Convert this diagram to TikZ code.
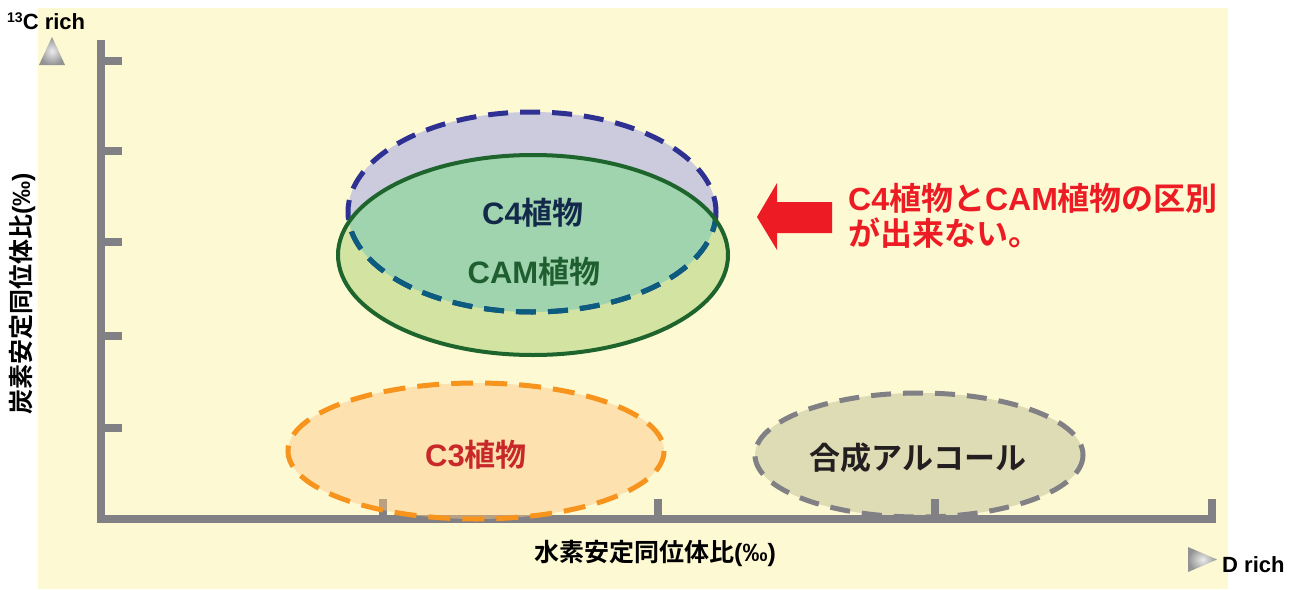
\documentclass[tikz,border=0pt]{standalone}
\usepackage{fontspec}
\setmainfont{Noto Sans CJK JP}[BoldFont={Noto Sans CJK JP Bold}]
\newfontfamily\lat{Liberation Sans}
\definecolor{bg}{RGB}{253,249,210}
\definecolor{axisgray}{RGB}{128,128,133}
\definecolor{c4fill}{RGB}{203,203,221}
\definecolor{camfill}{RGB}{210,227,162}
\definecolor{mint}{RGB}{160,212,174}
\definecolor{navy}{RGB}{46,49,146}
\definecolor{tealdash}{RGB}{11,92,126}
\definecolor{camgreen}{RGB}{30,100,45}
\definecolor{c3orange}{RGB}{247,148,29}
\definecolor{c3fill}{RGB}{253,200,134}
\definecolor{alcfill}{RGB}{222,220,181}
\definecolor{arrowred}{RGB}{237,28,36}
\definecolor{c4text}{RGB}{19,41,75}
\definecolor{camtext}{RGB}{31,95,47}
\definecolor{c3text}{RGB}{200,40,42}
\definecolor{alctext}{RGB}{35,31,32}
\begin{document}
\begin{tikzpicture}[x=1pt,y=-1pt,font=\bfseries,
  axisline/.style={axisgray,line width=8pt},
  dashline/.style={line width=5pt,dash pattern=on 20pt off 12pt},
  label/.style={inner sep=0pt,font=\bfseries\fontsize{31}{31}\selectfont},
  axlabel/.style={inner sep=0pt,font=\bfseries\fontsize{25}{25}\selectfont,text=black},
  richlabel/.style={inner sep=0pt,font=\lat\bfseries\fontsize{22}{22}\selectfont,text=black},
  marker/.style={shade,inner color=gray!15,outer color=gray!85}]
\useasboundingbox (0,0) rectangle (1300,589);
\fill[white] (0,0) rectangle (1300,589);
\fill[bg] (38,8) rectangle (1228,589);
% synthetic alcohol
\path[fill=alcfill,draw=axisgray,dashline] (919,455) ellipse [x radius=164,y radius=62];
% axes
\draw[axisline] (101,40) -- (101,519) -- (1216,519);
\foreach \yy in {61,151,242,336,428} \draw[axisline] (101,\yy) -- (122,\yy);
\foreach \xx in {383,658,935,1212} \draw[axisline] (\xx,519) -- (\xx,499);
% C3
\fill[c3fill,fill opacity=0.45] (476,451) ellipse [x radius=188,y radius=68];
\draw[c3orange,dashline,dash pattern=on 22pt off 12pt] (476,451) ellipse [x radius=188,y radius=68];
% C4 and CAM
\fill[c4fill] (532,212) ellipse [x radius=184,y radius=100];
\fill[camfill] (533,255) ellipse [x radius=195,y radius=100];
\begin{scope}
  \clip (533,255) ellipse [x radius=195,y radius=100];
  \fill[mint] (532,212) ellipse [x radius=184,y radius=100];
\end{scope}
\draw[navy,dashline] (532,212) ellipse [x radius=184,y radius=100];
\begin{scope}
  \clip (533,255) ellipse [x radius=195,y radius=100];
  \draw[tealdash,dashline] (532,212) ellipse [x radius=184,y radius=100];
\end{scope}
\draw[camgreen,line width=4pt] (533,255) ellipse [x radius=195,y radius=100];
% labels
\node[label,text=c4text] (c4) at (533,213) {{\lat C4}植物};
\node[label,text=camtext] (cam) at (534,272) {{\lat CAM}植物};
\node[label,text=c3text] (c3) at (476,455) {{\lat C3}植物};
\node[label,text=alctext] (alc) at (918,458) {合成アルコール};
% red arrow and note
\fill[arrowred] (757,217) -- (777,183) -- (777,202) -- (832,202) -- (832,233) -- (777,233) -- (777,250) -- cycle;
\node[inner sep=0pt,anchor=west,align=left,text=arrowred,font=\bfseries\fontsize{32}{35}\selectfont] (note) at (848,216) {{\lat C4}植物と{\lat CAM}植物の区別\\が出来ない。};
% axis labels
\node[axlabel] (xlab) at (655,553) {水素安定同位体比{\lat(‰)}};
\node[axlabel,rotate=90] (ylab) at (22,294) {炭素安定同位体比{\lat(‰)}};
% rich markers
\path[marker] (39,65) -- (65,65) -- (52,37) -- cycle;
\path[marker] (1188,547) -- (1188,572) -- (1217,559.5) -- cycle;
\node[richlabel,anchor=base west] (crich) at (7,29) {{\fontsize{14}{14}\selectfont\raisebox{6pt}{13}}C rich};
\node[richlabel,anchor=base west] (drich) at (1222,572) {D rich};
\end{tikzpicture}
\end{document}
